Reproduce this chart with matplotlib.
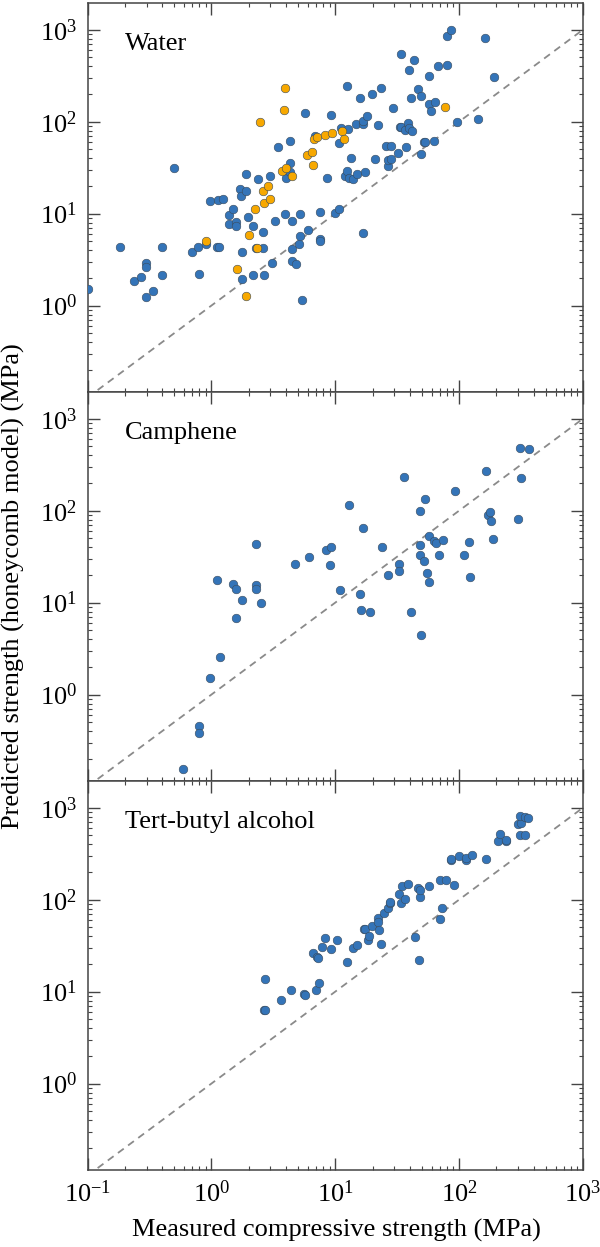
import matplotlib
matplotlib.use("Agg")
import matplotlib.pyplot as plt
import numpy as np
from matplotlib.ticker import LogLocator, NullFormatter

plt.rcParams['font.family'] = ['Liberation Serif', 'DejaVu Serif']
plt.rcParams['mathtext.fontset'] = 'custom'
plt.rcParams['mathtext.rm'] = 'Liberation Serif'
plt.rcParams['mathtext.it'] = 'Liberation Serif:italic'
plt.rcParams['mathtext.bf'] = 'Liberation Serif:bold'

# water, blue points (MPa)
water_x = [0.1, 0.183, 0.238, 0.269, 0.295, 0.295, 0.295, 0.34, 0.398, 0.4,
           0.497, 0.693, 0.776, 0.79, 0.9, 0.98, 1.11, 1.16, 1.14, 1.24,
           1.39, 1.39, 1.5, 1.59, 1.59, 1.69, 1.72, 1.77, 1.77, 1.9,
           1.9, 1.97, 2.16, 2.16, 2.38, 2.59, 2.59, 2.3, 2.68, 2.98,
           3.09, 3.27, 3.46, 3.96, 4.02, 4.32, 4.32, 4.32, 4.48, 4.48,
           4.48, 4.84, 5.09, 5.2, 5.2, 5.38, 5.7, 6.08, 6.9, 7.52,
           7.52, 7.6, 8.55, 9.18, 10.0, 10.7, 10.8, 11.2, 12.4, 12.6,
           11.9, 12.4, 12.8, 13.4, 13.9, 14.6, 15.0, 15.9, 16.6, 16.9,
           16.9, 17.4, 18.1, 19.7, 20.8, 22.0, 23.5, 25.8, 26.5, 26.5,
           28.1, 28.1, 29.1, 32.4, 33.1, 33.8, 34.2, 36.5, 37.3, 39.5,
           39.0, 39.5, 40.9, 41.8, 43.0, 46.9, 49.6, 49.6, 51.8, 53.0,
           57.2, 57.2, 59.7, 62.7, 64.1, 67.3, 80.0, 80.0, 85.9, 95.5,
           142, 160.6, 193]
water_y = [1.5, 4.35, 1.87, 2.03, 2.94, 2.66, 1.25, 1.44, 4.35, 2.16,
           31.1, 3.84, 4.35, 2.19, 4.7, 13.6, 4.35, 4.35, 14.0, 14.5,
           9.64, 7.69, 11.3, 8.09, 7.31, 18.4, 15.7, 3.84, 1.95, 26.7,
           17.8, 9.25, 7.37, 2.16, 23.8, 6.24, 4.28, 4.28, 2.16, 25.9,
           2.92, 8.36, 53.5, 9.8, 24.4, 61.7, 35.8, 28.1, 8.36, 4.11,
           3.09, 2.84, 4.73, 5.69, 9.97, 1.16, 124.7, 6.56, 70.6, 10.3,
           5.32, 5.1, 24.6, 118.5, 10.1, 58.2, 11.3, 86.2, 245, 83.4,
           25.9, 28.8, 24.7, 39.9, 23.6, 94.5, 27.0, 180, 6.14, 94.5,
           102, 28.1, 114.6, 199, 39.0, 92.2, 235, 54.4, 33.0, 38.3,
           55.0, 39.5, 142.5, 45.3, 87.7, 538, 88.0, 81.0, 52.6, 360,
           97.0, 85.0, 181.6, 80.0, 463, 225, 188, 44.5, 60.2, 60.0,
           310, 155, 132, 62.2, 163, 402, 415, 860, 992, 100,
           106, 805, 303]

# water, orange points (MPa)
water_orange_x = [0.9, 1.62, 1.9, 2.03, 2.26, 2.32, 2.48, 2.62, 2.65, 2.84,
                  3.0, 3.74, 3.88, 3.96, 4.0, 4.48, 5.9, 6.53, 6.67, 6.76,
                  7.16, 8.25, 9.38, 11.3, 11.8, 76.5]
water_orange_y = [5.06, 2.49, 1.26, 5.84, 11.2, 4.28, 100, 17.8, 13.1, 19.8,
                  14.6, 28.8, 134, 233, 31.1, 25.9, 43.4, 46.5, 34.1, 64.9,
                  67.7, 71.2, 76.1, 80.0, 65.4, 143.6]

# camphene
camphene_x = [0.585, 0.8, 0.8, 0.968, 1.1, 1.18, 1.49, 1.59, 1.59, 1.77,
              2.29, 2.29, 2.29, 2.5, 4.7, 6.16, 8.49, 9.18, 9.0, 10.9,
              13.0, 15.9, 16.6, 16.1, 19.1, 24.0, 26.9, 32.8, 32.8, 36.0,
              41.2, 47.9, 48.2, 48.6, 49.0, 52.1, 52.6, 55.2, 56.8, 57.5,
              62.3, 65.5, 69.3, 74.5, 92.9, 109, 121, 122, 166, 170,
              178.6, 181, 189, 300, 309, 313, 364]
camphene_y = [0.156, 0.458, 0.387, 1.51, 17.7, 2.58, 16.0, 14.2, 6.78, 10.6,
              43.7, 15.6, 14.1, 9.9, 26.2, 31.0, 37.0, 39.9, 25.7, 13.8,
              115.7, 12.5, 64.8, 8.36, 7.95, 40.5, 20.0, 26.2, 22.1, 234,
              7.82, 32.6, 100, 42.6, 4.46, 28.7, 133, 20.9, 16.9, 53.0,
              47.1, 44.8, 32.6, 47.5, 163, 32.6, 45.2, 19.0, 272, 90.0,
              96.2, 78.0, 48.7, 82.0, 478, 226, 466]

# tert-butyl alcohol
tba_x = [2.64, 2.7, 2.7, 3.66, 4.41, 5.58, 5.7, 6.67, 7.06, 7.2,
         7.0, 7.41, 7.8, 8.19, 9.25, 10.3, 12.4, 13.9, 15.0, 17.2,
         17.4, 18.3, 18.7, 19.9, 22.0, 22.2, 22.5, 23.2, 24.9, 26.7,
         27.7, 27.5, 32.8, 33.8, 34.8, 36.5, 38.9, 44.0, 46.9, 47.5,
         48.2, 48.5, 56.8, 69.8, 69.8, 73.4, 77.7, 90.2, 85.9, 86.5,
         100.4, 113, 114, 126, 165, 206, 212, 241, 238, 309,
         339, 300, 315, 310, 339, 359]
tba_y = [6.39, 6.3, 13.6, 8.09, 10.4, 9.48, 9.3, 26.0, 23.9, 23.2,
         10.4, 12.5, 30.5, 38.5, 29.2, 36.3, 21.2, 29.7, 32.0, 48.0,
         48.5, 36.6, 40.5, 52.1, 63.8, 57.7, 46.4, 32.9, 71.1, 80.7,
         91.5, 95.0, 113.8, 93.0, 141.6, 101, 149, 38.9, 133, 22.0,
         108, 128, 139, 61.7, 165, 80.7, 164, 143, 268, 275,
         296, 268, 282, 304, 277, 436, 520, 429, 445, 503,
         503, 669, 688, 805, 800, 765]

panel_names = ["Water", "Camphene", "Tert-butyl alcohol"]

blue = "#3474b8"
orange = "#f7a800"
edge = "#3a4a5a"

fig = plt.figure(figsize=(6, 12.47), dpi=100)
top_px, bottom_px = 3.0, 1170.0
h_px = (bottom_px - top_px) / 3
left, width, height = 87.5 / 600, 495.5 / 600, h_px / 1247
bottoms = [1 - (top_px + (i + 1) * h_px) / 1247 for i in range(3)]

series = [[(water_x, water_y, blue), (water_orange_x, water_orange_y, orange)],
          [(camphene_x, camphene_y, blue)],
          [(tba_x, tba_y, blue)]]

for i in range(3):
    ax = fig.add_axes([left, bottoms[i], width, height])
    ax.set_xscale("log")
    ax.set_yscale("log")
    ax.set_xlim(0.1, 1000)
    ax.set_ylim(0.115, 1950)
    ax.plot([0.1, 1000], [0.1, 1000], ls=(0, (4, 3)), color="#8a8a8a", lw=1.3, zorder=1)
    for xs, ys, c in series[i]:
        ax.plot(xs, ys, "o", ms=6.2, mfc=c, mec=edge, mew=0.4, zorder=3)
    ax.text(0.075, 0.878, panel_names[i], transform=ax.transAxes, fontsize=19, va="baseline")
    ax.xaxis.set_major_locator(LogLocator(base=10, numticks=10))
    ax.xaxis.set_minor_locator(LogLocator(base=10, subs=np.arange(2, 10), numticks=20))
    ax.yaxis.set_major_locator(LogLocator(base=10, numticks=10))
    ax.yaxis.set_minor_locator(LogLocator(base=10, subs=np.arange(2, 10), numticks=20))
    ax.xaxis.set_minor_formatter(NullFormatter())
    ax.yaxis.set_minor_formatter(NullFormatter())
    ax.tick_params(which="both", direction="in", top=True, right=True, colors="#444444",
                   labelcolor="black", labelsize=19)
    ax.tick_params(which="major", length=8.6, width=1.0, pad=7.5)
    ax.tick_params(which="minor", length=3.0, width=0.8)
    for s in ax.spines.values():
        s.set_linewidth(1.1)
        s.set_color("#444444")
    if i < 2:
        ax.tick_params(labelbottom=False)

fig.text(13 / 600, 1 - 586 / 1247, "Predicted strength (honeycomb model) (MPa)",
         rotation=90, ha="center", va="center", fontsize=19)
fig.text(336 / 600, 1 - 1230 / 1247, "Measured compressive strength (MPa)",
         ha="center", va="center", fontsize=19)

fig.savefig("out.png", dpi=100)
